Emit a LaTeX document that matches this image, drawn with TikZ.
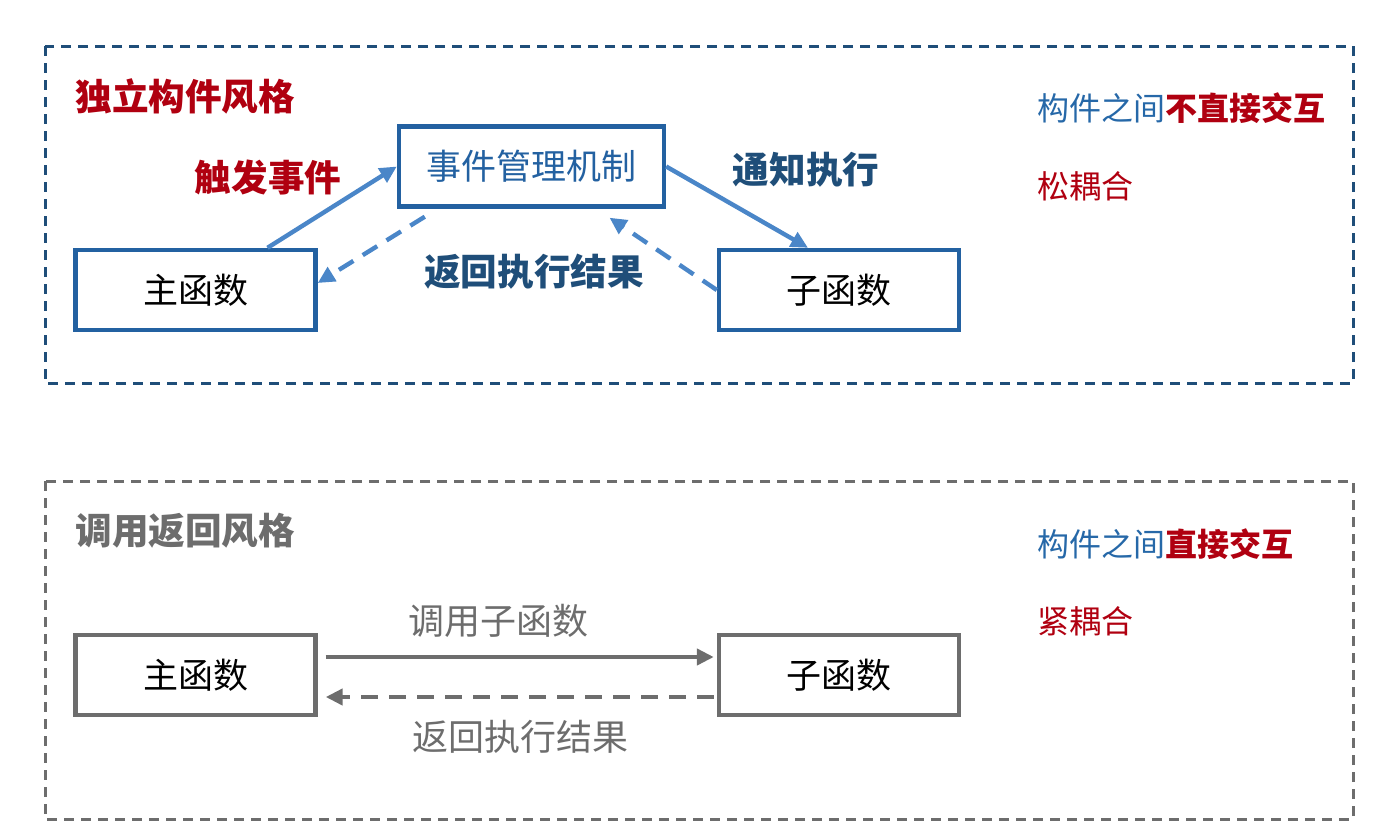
\documentclass[tikz,border=0pt]{standalone}
\usepackage{fontspec}
\setmainfont{Noto Sans CJK SC}
\usepackage{xcolor}
\usetikzlibrary{arrows.meta}
\definecolor{framblue}{RGB}{31,78,121}
\definecolor{boxblue}{RGB}{35,97,161}
\definecolor{arrblue}{RGB}{74,134,200}
\definecolor{darkred}{RGB}{176,0,16}
\definecolor{noteblue}{RGB}{38,104,168}
\definecolor{callgray}{RGB}{109,109,109}

\begin{document}
\begin{tikzpicture}[x=0.5pt, y=-0.5pt,
				   every node/.style={inner sep=0pt, align=center},
				   fbox/.style={draw=boxblue, line width=2.2pt, minimum width=120pt, minimum height=40pt, font=\fontsize{17.5}{19}\selectfont},
				   gbox/.style={fbox, draw=callgray},
				   lbl/.style={font=\fontsize{18.3}{20}\selectfont\bfseries},
				   note/.style={anchor=west, font=\fontsize{16}{18}\selectfont},
				   tip/.style={-{Triangle[length=8.5pt, width=8pt]}, line width=2.2pt},
				   dashtip/.style={tip, dash pattern=on 8.5pt off 5.5pt}]
\useasboundingbox (0,0) rectangle (1378,836);
% frames
\draw[framblue, line width=1.5pt, dash pattern=on 5pt off 3.5pt] (45,46) rectangle (1353,383);
\draw[callgray, line width=1.5pt, dash pattern=on 5pt off 3.5pt] (45,481) rectangle (1353,819);

% independent components
\node[lbl, anchor=west, text=darkred] (title1) at (75,96) {独立构件风格};
\node[fbox, minimum width=132.5pt, text=boxblue] (mgr) at (531.5,166.5) {事件管理机制};
\node[fbox] (main1) at (195.5,290) {主函数};
\node[fbox] (sub1) at (839,290) {子函数};
\draw[tip, arrblue] ([xshift=36pt]main1.north) -- (mgr.west);
\draw[dashtip, arrblue] ([xshift=14pt,yshift=-4pt]mgr.south west) -- ([yshift=3.5pt]main1.east);
\draw[tip, arrblue] (mgr.east) -- ([xshift=-15.5pt]sub1.north);
\draw[dashtip, arrblue] (sub1.west) -- ([xshift=39pt,yshift=-4.5pt]mgr.south);
\node[lbl, text=darkred] (trigger) at (268,177) {触发事件};
\node[lbl, text=framblue] (notify) at (806,170) {通知执行};
\node[lbl, text=framblue] (ret1) at (534,272) {返回执行结果};
\node[note] (note1) at (1037,108) {\textcolor{noteblue}{构件之间}\textcolor{darkred}{\bfseries 不直接交互}};
\node[note, text=darkred] (loose) at (1037,186) {松耦合};

% call and return
\node[lbl, anchor=west, text=callgray] (title2) at (75,531) {调用返回风格};
\node[gbox] (main2) at (195.5,675) {主函数};
\node[gbox] (sub2) at (839,675) {子函数};
\draw[tip, callgray] ([xshift=4pt,yshift=9pt]main2.east) -- ([xshift=-1.5pt,yshift=9pt]sub2.west);
\draw[dashtip, callgray] ([xshift=-1.5pt,yshift=-11pt]sub2.west) -- ([xshift=4pt,yshift=-11pt]main2.east);
\node[font=\fontsize{18}{20}\selectfont, text=callgray] (call) at (498,621) {调用子函数};
\node[font=\fontsize{18}{20}\selectfont, text=callgray] (ret2) at (520,737) {返回执行结果};
\node[note] (note2) at (1037,544) {\textcolor{noteblue}{构件之间}\textcolor{darkred}{\bfseries 直接交互}};
\node[note, text=darkred] (tight) at (1037,621) {紧耦合};
\end{tikzpicture}
\end{document}
